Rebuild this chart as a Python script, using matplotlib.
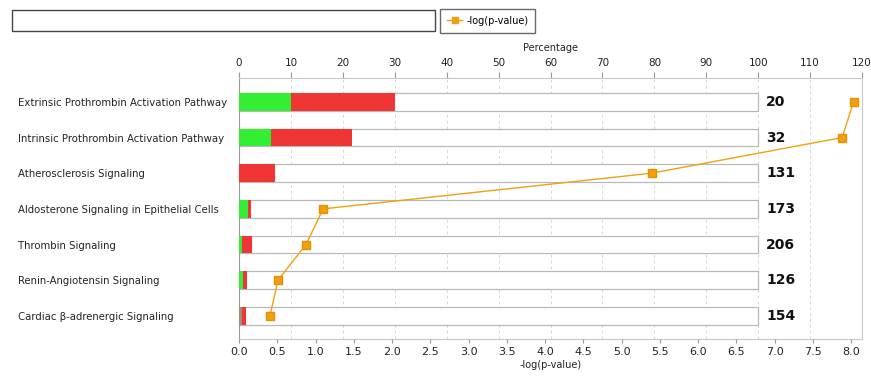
import matplotlib
matplotlib.use("Agg")
import matplotlib.pyplot as plt
from matplotlib.patches import Rectangle
from matplotlib.lines import Line2D

### Data ###

pathways = [
    "Extrinsic Prothrombin Activation Pathway",
    "Intrinsic Prothrombin Activation Pathway",
    "Atherosclerosis Signaling",
    "Aldosterone Signaling in Epithelial Cells",
    "Thrombin Signaling",
    "Renin-Angiotensin Signaling",
    "Cardiac \u03b2-adrenergic Signaling",
]
totals = [20, 32, 131, 173, 206, 126, 154]
down_pct = [10.0, 6.25, 0.0, 1.73, 0.49, 0.79, 0.0]   # green
other_pct = [0.0, 0.0, 0.0, 0.0, 0.0, 0.0, 0.65]      # grey
up_pct = [20.0, 15.6, 6.87, 0.58, 1.94, 0.79, 0.65]    # red
neglogp = [8.03, 7.88, 5.39, 1.10, 0.876, 0.51, 0.405]

pct_ticks = list(range(0, 121, 10))
p_ticks = [x / 2 for x in range(0, 17)]

### Plot ###

green = "#33ee33"
red = "#f03535"
grey = "#a08f78"
orange = "#f0a010"
txt = "#222222"

fig = plt.figure(figsize=(8.71, 3.8), dpi=100)
ax = fig.add_axes([239 / 871, 41 / 380, 623 / 871, 261 / 380])
ax2 = ax.twiny()

rows = list(range(len(pathways)))
h = 0.5

# empty 0-100% outlines
ax.barh(rows, [100] * len(rows), height=h, color="white", edgecolor="#b8b8b8", linewidth=0.9, zorder=2)
ax.barh(rows, down_pct, height=h, color=green, zorder=3)
ax.barh(rows, other_pct, left=down_pct, height=h, color=grey, zorder=3)
left_up = [d + o for d, o in zip(down_pct, other_pct)]
ax.barh(rows, up_pct, left=left_up, height=h, color=red, zorder=3)

for i, n in enumerate(totals):
    ax.text(101.5, i, str(n), va="center", ha="left", fontsize=10, fontweight="bold", color="#111111", zorder=4)

ax.set_xlim(0, 120)
ax.set_ylim(6.65, -0.67)
ax.xaxis.tick_top()
ax.xaxis.set_label_position("top")
ax.set_xticks(pct_ticks)
ax.set_xlabel("Percentage", fontsize=7, color=txt, labelpad=5)
ax.grid(axis="x", color="#d8d8d8", linestyle=(0, (3, 3)), linewidth=0.7, zorder=0)
ax.set_axisbelow(True)

ax.set_yticks(rows)
ax.set_yticklabels(pathways, ha="left", fontsize=7.3, color=txt)
ax.tick_params(axis="y", length=0, pad=159)
ax.tick_params(axis="x", labelsize=7.5, colors=txt, length=4, color="#999999", pad=3)

for s in ax.spines.values():
    s.set_color("#c8c8c8")
ax.spines["left"].set_color("#999999")

ax2.xaxis.tick_bottom()
ax2.xaxis.set_label_position("bottom")
ax2.plot(neglogp, rows, color=orange, linewidth=1.0, marker="s", markersize=6,
         markerfacecolor=orange, markeredgecolor="#e89000", zorder=5)
ax2.set_xlim(0, 8.14)
ax2.set_xticks(p_ticks)
ax2.set_xticklabels([f"{t:.1f}" for t in p_ticks])
ax2.tick_params(axis="x", labelsize=8, colors=txt, length=3, color="#999999", pad=3)
ax2.set_xlabel("-log(p-value)", fontsize=7, color=txt, labelpad=2)
for s in ax2.spines.values():
    s.set_visible(False)

# legend area at top
fig.patches.append(Rectangle((12 / 871, 349 / 380), 423 / 871, 21 / 380, transform=fig.transFigure,
                             facecolor="white", edgecolor="#444444", linewidth=1.0))
handle = Line2D([], [], color=orange, marker="s", markersize=5, linewidth=1.0)
leg = fig.legend([handle], ["-log(p-value)"], loc="upper left", bbox_to_anchor=(440 / 871, 371 / 380),
                 fontsize=7, frameon=True, fancybox=False, borderpad=0.7, handlelength=1.6,
                 handletextpad=0.4, borderaxespad=0)
leg.get_frame().set_edgecolor("#444444")
leg.get_frame().set_linewidth(1.0)

plt.savefig("out.png", dpi=100)
